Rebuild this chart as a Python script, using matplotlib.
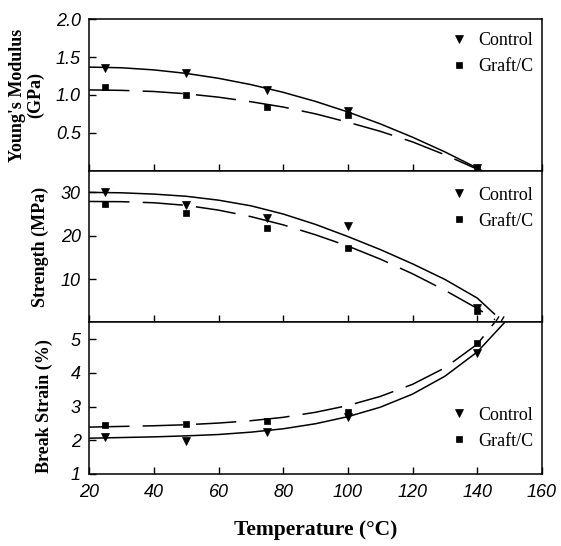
import numpy as np
import matplotlib
matplotlib.use("Agg")
import matplotlib.pyplot as plt
import matplotlib.transforms as mtransforms
from matplotlib.lines import Line2D

# measured points
temps = [25, 50, 75, 100, 140]
modulus_control = [1.35, 1.29, 1.07, 0.79, 0.03]
modulus_graft = [1.10, 1.00, 0.84, 0.73, 0.02]
strength_control = [30.2, 27.2, 24.1, 22.2, 3.4]
strength_graft = [27.3, 25.2, 21.8, 17.2, 2.6]
strain_control = [2.11, 1.97, 2.23, 2.68, 4.58]
strain_graft = [2.44, 2.47, 2.57, 2.83, 4.88]

# trend curves
fit_t = [20, 30, 40, 50, 60, 70, 80, 90, 100, 110, 120, 130, 140]
modulus_control_fit_t = fit_t + [141.5]
modulus_control_fit = [1.367, 1.358, 1.330, 1.284, 1.219, 1.136, 1.034, 0.914, 0.775, 0.618, 0.442, 0.248, 0.035, 0.0]
modulus_graft_fit_t = fit_t
modulus_graft_fit = [1.066, 1.060, 1.045, 1.015, 0.970, 0.910, 0.840, 0.750, 0.640, 0.520, 0.380, 0.210, 0.020]
strength_control_fit_t = fit_t + [145.5]
strength_control_fit = [30.0, 29.9, 29.6, 29.1, 28.2, 26.9, 25.0, 22.6, 19.8, 16.8, 13.5, 9.9, 5.6, 1.8]
strength_graft_fit_t = fit_t + [145.5]
strength_graft_fit = [27.9, 27.85, 27.6, 27.0, 25.9, 24.4, 22.5, 20.2, 17.6, 14.6, 11.2, 7.4, 3.2, 0.6]
strain_control_fit_t = fit_t + [148.5]
strain_control_fit = [2.06, 2.08, 2.10, 2.13, 2.17, 2.24, 2.34, 2.49, 2.70, 2.98, 3.37, 3.90, 4.62, 5.5]
strain_graft_fit_t = fit_t + [145.4]
strain_graft_fit = [2.39, 2.41, 2.43, 2.46, 2.51, 2.58, 2.68, 2.83, 3.03, 3.30, 3.66, 4.15, 4.85, 5.5]

x_ticks = [20, 40, 60, 80, 100, 120, 140, 160]
modulus_ticks = [0.5, 1.0, 1.5, 2.0]
strength_ticks = [10, 20, 30]
strain_ticks = [1, 2, 3, 4, 5]

plt.rcParams["lines.scale_dashes"] = False
serif = ["Liberation Serif", "DejaVu Serif"]
tickfont = ["Liberation Sans Narrow", "Liberation Sans", "DejaVu Sans"]

fig, axes = plt.subplots(3, 1, figsize=(5.61, 5.46), dpi=100, sharex=True)
fig.subplots_adjust(left=0.159, right=0.966, top=0.965, bottom=0.132, hspace=0)

panels = [
    (modulus_control, modulus_graft,
     modulus_control_fit_t, modulus_control_fit, modulus_graft_fit_t, modulus_graft_fit,
     (0, 2.0), modulus_ticks, "%.1f", "Young's Modulus\n(GPa)", -0.1375, 0.5, 0.912),
    (strength_control, strength_graft,
     strength_control_fit_t, strength_control_fit, strength_graft_fit_t, strength_graft_fit,
     (0, 35), strength_ticks, "%d", "Strength (MPa)", -0.109, 0.5, 0.895),
    (strain_control, strain_graft,
     strain_control_fit_t, strain_control_fit, strain_graft_fit_t, strain_graft_fit,
     (1, 5.5), strain_ticks, "%d", "Break Strain (%)", -0.098, 0.45, 0.443),
]

for ax, p in zip(axes, panels):
    (yc, yg, tc, fc, tg, fg, ylim, yt, fmt, ylab, labx, laby, legy) = p
    ax.plot(tc, fc, color="black", lw=1.1, solid_capstyle="butt")
    ax.plot(tg, fg, color="black", lw=1.1, linestyle=(0, (29, 9.5)))
    ax.plot(temps, yc, linestyle="none", marker="v", ms=6.3, mew=0.5, color="black", label="Control")
    ax.plot(temps, yg, linestyle="none", marker="s", ms=4.8, mew=0.5, color="black", label="Graft/C")

    ax.set_xlim(20, 160)
    ax.set_ylim(*ylim)
    ax.set_xticks(x_ticks)
    ax.set_yticks(yt)
    ax.set_yticklabels([fmt % v for v in yt])
    ax.tick_params(direction="in", length=5, width=1.0, labelsize=13, pad=6)
    ax.tick_params(axis="x", pad=7)
    for lab in ax.get_yticklabels() + ax.get_xticklabels():
        lab.set_family(tickfont)
        lab.set_style("italic")
    for s in ax.spines.values():
        s.set_linewidth(1.1)

    ax.set_ylabel(ylab, fontsize=13, fontweight="bold", family=serif,
                  va="center", linespacing=1.05)
    ax.yaxis.set_label_coords(labx, laby)

    leg = ax.legend(loc="upper left", bbox_to_anchor=(0.796, legy), frameon=False,
                    prop={"family": serif, "size": 13}, handlelength=1.0,
                    handletextpad=0.6, labelspacing=0.5, borderpad=0,
                    borderaxespad=0)

axes[2].set_xlabel("Temperature (\u00b0C)", fontsize=15.5, fontweight="bold",
                   family=serif, labelpad=14)

# axis break mark below the strength curves
ax = axes[1]
trans = mtransforms.blended_transform_factory(ax.transData, ax.transAxes)
for dx in (0.0, 1.6):
    ax.add_line(Line2D([144.6 + dx, 146.6 + dx], [-0.035, 0.035], transform=trans,
                       color="black", lw=1.0, clip_on=False))

fig.savefig("out.png", dpi=100)
